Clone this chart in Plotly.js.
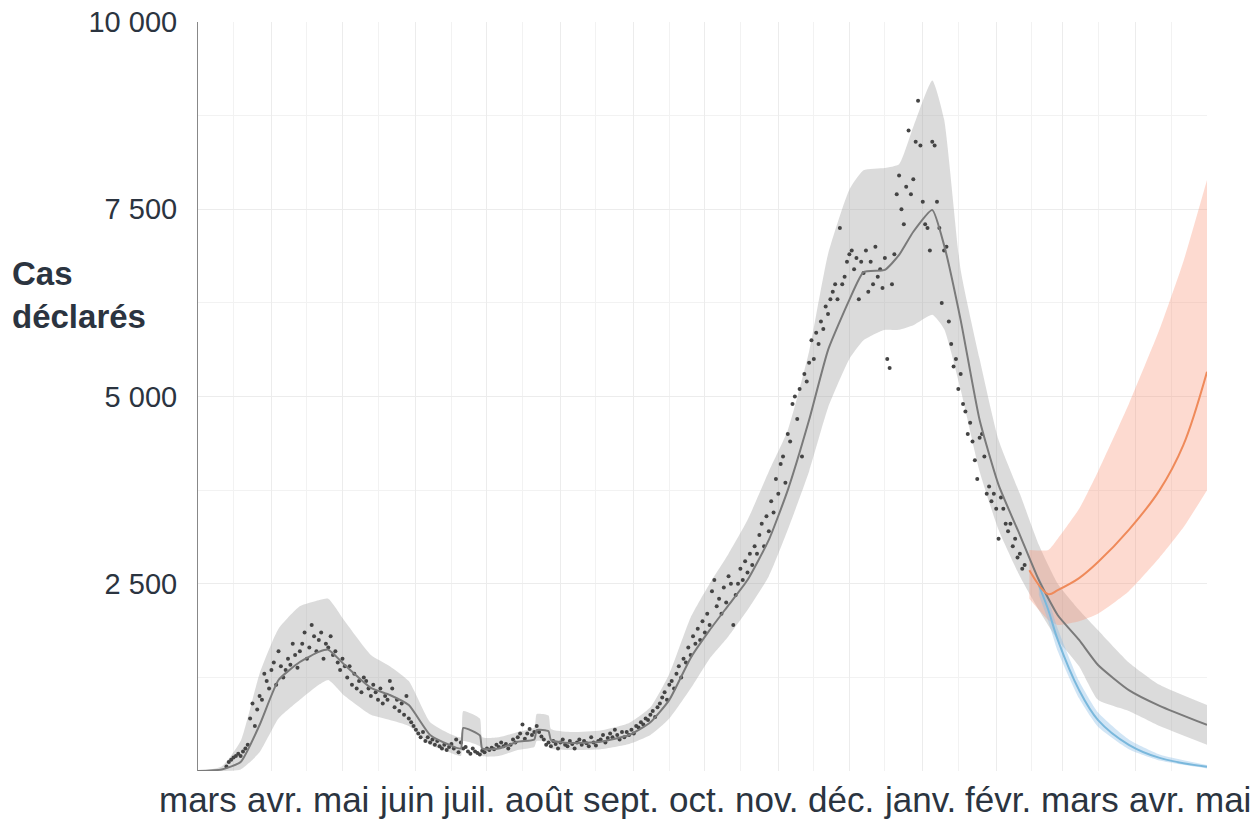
<!DOCTYPE html>
<html>
<head>
<meta charset="utf-8">
<script src="https://cdn.plot.ly/plotly-3.0.1.min.js"></script>
<style>body{margin:0;background:#fff}#chart{width:1259px;height:823px}</style>
</head>
<body>
<div id="chart"></div>
<script>
// Jours comptés depuis le 1er mars 2020
const START = Date.UTC(2020, 2, 1);

// Courbe ajustée (gris)
const fitDays  = [0, 10, 18, 26, 34, 43, 51, 55, 62, 73, 81, 89, 98, 106, 111, 112, 119, 120, 127, 135, 142, 143, 148, 149, 157, 170, 182, 191, 199, 208, 216, 224, 232, 241, 249, 258, 266, 275, 281, 290, 296, 302, 310, 315, 322, 330, 338, 347, 355, 363, 372, 380, 393, 406, 426];
const fitVals  = [0, 20, 120, 614, 1215, 1455, 1590, 1620, 1415, 1110, 1015, 880, 480, 350, 300, 575, 475, 300, 300, 390, 420, 545, 530, 415, 375, 390, 480, 650, 950, 1510, 1880, 2215, 2550, 3085, 3750, 4685, 5620, 6290, 6660, 6690, 6890, 7200, 7490, 7020, 6020, 4685, 3820, 3150, 2550, 2080, 1750, 1415, 1080, 870, 615];
const bandUp   = [0, 60, 400, 1300, 1900, 2200, 2280, 2300, 2000, 1550, 1400, 1200, 650, 500, 450, 800, 700, 450, 450, 520, 580, 760, 740, 560, 520, 540, 640, 850, 1300, 2050, 2500, 2900, 3350, 4000, 4550, 5600, 6900, 7760, 8020, 8050, 8100, 8600, 9220, 8700, 6690, 5500, 4420, 3700, 3020, 2500, 2150, 1880, 1450, 1150, 880];
const bandLow  = [0, 0, 20, 250, 700, 950, 1150, 1215, 1000, 750, 680, 600, 350, 250, 200, 400, 330, 200, 200, 280, 320, 400, 380, 300, 280, 290, 360, 480, 700, 1100, 1500, 1800, 2150, 2600, 3220, 4000, 4850, 5500, 5750, 5890, 5890, 5950, 6090, 5900, 5090, 4000, 3220, 2600, 2150, 1750, 1400, 950, 800, 600, 350];

// Scénario bas (bleu)
const blueDays = [355, 359, 363, 372, 380, 393, 406, 426];
const blueVals = [2480, 2150, 1750, 1080, 680, 350, 175, 55];
const blueUp   = [2600, 2300, 1900, 1200, 780, 420, 220, 80];
const blueLow  = [2350, 2000, 1600, 970, 590, 290, 140, 35];

// Scénario haut (orange)
const orDays   = [351, 359, 363, 372, 380, 393, 406, 416, 426];
const orVals   = [2680, 2360, 2415, 2575, 2790, 3220, 3750, 4350, 5330];
const orUp     = [2950, 2950, 3100, 3500, 4000, 4900, 5900, 6800, 7890];
const orLow    = [2300, 2015, 1950, 2000, 2100, 2400, 2850, 3250, 3750];

// Cas déclarés quotidiens, un point par jour à partir du jour 12
const OBS_FIRST_DAY = 12;
const obsVals = [
  60, 120, 150, 180, 200, 230, 200, 260, 300, 350,
  700, 900, 600, 820, 1000, 950, 1300, 1200, 1100, 1350,
  1450, 1150, 1600, 1400, 1250, 1350, 1500, 1420, 1700, 1550,
  1380, 1600, 1700, 1850, 1500, 1650, 1950, 1800, 1600, 1750,
  1850, 1500, 1700, 1650, 1800, 1550, 1600, 1450, 1350, 1500,
  1400, 1250, 1400, 1150, 1300, 1100, 1200, 1050, 1250, 1200,
  1100, 1000, 1150, 1050, 950, 1100, 900, 1000, 950, 1200,
  1100, 850, 950, 800, 900, 750, 1000, 700, 650, 600,
  550, 500, 450, 520, 400, 450, 380, 420,
  350, 400, 330, 300, 350, 280, 320, 360, 300, 420,
  250, 380, 300, 320, 260, 230, 300, 260, 240, 220,
  270, 250, 300, 280, 310, 290, 350, 320, 380, 330,
  360, 300, 350, 420, 380, 450, 500, 620, 430, 500,
  560, 480, 520, 600, 520, 460, 420, 350, 380, 330,
  400, 360, 300, 380, 420, 350, 330, 400, 360, 300,
  380, 420, 350, 400, 370, 330, 450, 380, 340, 400,
  420, 480, 380, 440, 500, 450, 550, 480, 420, 520,
  450, 520, 480, 550, 500, 600, 580, 650, 620, 700,
  680, 750, 800, 720, 850, 900, 980, 1050, 950, 1150,
  1200, 1100, 1300, 1400, 1250, 1500, 1450, 1650, 1550, 1800,
  1700, 1900, 1750, 2000, 1850, 2100, 1950, 2400, 2550, 2200,
  2300, 2100, 2450, 2250, 2600, 2500, 1950, 2350, 2500, 2700,
  2550, 2800, 2650, 2900, 2750, 3000, 2900, 3150, 3300, 3000,
  3400, 3200, 3600, 3450, 3900, 3700, 4100, 4200, 3850, 4500,
  4400, 4900, 5000, 4700, 5100, 4200, 5300, 5200, 5450, 5750,
  5500, 5850, 5700, 6000, 5900, 6200, 6100, 6300, 6400, 6500,
  6300, 7250, 6500, 6600, 6800, 6900, 6950, 6700, 6850, 6300,
  6800, 6650, 6950, 6400, 6800, 6500, 7000, 6600, 6700, 6450,
  6850, 5500, 5380, 6500, 6900, 7700, 7950, 7500, 7300, 7800,
  8550, 7700, 7900, 8400, 8950, 8350, 7600, 7300, 7250, 6950,
  8400, 8350, 7600, 7250, 6250, 6950, 7000, 6000, 5700, 5400,
  5500, 5100, 5300, 4900, 4800, 4500, 4650, 4400, 4150, 3900,
  4450, 4500, 4200, 3700, 3800, 3600, 3700, 3500, 3100, 3650,
  3500, 3300, 3200, 3300, 3000, 3100, 2850, 2900, 2700, 2750,
];

const monthLabels = ['mars','avr.','mai','juin','juil.','août','sept.','oct.','nov.','déc.','janv.','févr.','mars','avr.','mai'];

const toDate = d => new Date(START + d * 86400000).toISOString().slice(0, 10);

// Les étiquettes des mois se suivent sur une seule ligne, séparées d'une espace
const LABEL_SIZE = 35;
const PLOT_L = 198, PLOT_W = 1009;
function labelPositions() {
  const ctx = document.createElement('canvas').getContext('2d');
  ctx.font = `${LABEL_SIZE}px "Liberation Sans"`;
  const space = ctx.measureText(' ').width;
  const widths = monthLabels.map(t => ctx.measureText(t).width);
  const total = widths.reduce((a, b) => a + b, 0) + space * (widths.length - 1);
  let x = 705 - total / 2;
  return widths.map(w => { const c = x + w / 2; x += w + space; return (c - PLOT_L) / PLOT_W; });
}

function band(days, up, low, color) {
  const x = days.map(toDate);
  return [
    { x, y: low, type: 'scatter', mode: 'lines', line: { width: 0, shape: 'spline', smoothing: 0.5 }, hoverinfo: 'skip' },
    { x, y: up, type: 'scatter', mode: 'lines', line: { width: 0, shape: 'spline', smoothing: 0.5 },
      fill: 'tonexty', fillcolor: color, hoverinfo: 'skip' },
  ];
}

const traces = [
  ...band(fitDays, bandUp, bandLow, 'rgba(160,160,160,0.38)'),
  ...band(orDays, orUp, orLow, 'rgba(250,150,120,0.35)'),
  ...band(blueDays, blueUp, blueLow, 'rgba(140,190,230,0.4)'),
  { x: obsVals.map((_, i) => toDate(OBS_FIRST_DAY + i)), y: obsVals, type: 'scatter', mode: 'markers',
    marker: { size: 4, color: '#444' } },
  { x: fitDays.map(toDate), y: fitVals, type: 'scatter', mode: 'lines',
    line: { color: '#7a7a7a', width: 2, shape: 'spline', smoothing: 0.5 } },
  { x: blueDays.map(toDate), y: blueVals, type: 'scatter', mode: 'lines',
    line: { color: '#7ab8dc', width: 2, shape: 'spline' } },
  { x: orDays.map(toDate), y: orVals, type: 'scatter', mode: 'lines',
    line: { color: '#ef8a5a', width: 2, shape: 'spline' } },
];

const monthPos = labelPositions();
const monthAnn = monthLabels.map((t, i) => ({
  text: t, xref: 'paper', yref: 'paper', x: monthPos[i], y: -0.01,
  xanchor: 'center', yanchor: 'top', showarrow: false,
  font: { size: LABEL_SIZE, color: '#2b3440' },
}));

const layout = {
  width: 1259, height: 823,
  showlegend: false,
  paper_bgcolor: '#fff', plot_bgcolor: '#fff',
  margin: { t: 22, b: 52, l: 198, r: 52 },
  separators: ', ',
  font: { family: 'Liberation Sans, Arial, sans-serif', color: '#2b3440', size: 24 },
  xaxis: {
    type: 'date', range: [toDate(0), toDate(426)],
    dtick: 'M1', tick0: '2020-03-01', showticklabels: false,
    showgrid: true, gridcolor: '#ececec', zeroline: false, showline: false, ticks: '',
    minor: { dtick: 'M1', tick0: '2020-03-16', showgrid: true, gridcolor: '#f2f2f2' },
  },
  yaxis: {
    range: [0, 10000], tickvals: [2500, 5000, 7500, 10000], tickformat: ',d',
    showgrid: true, gridcolor: '#ececec', zeroline: false,
    showline: true, linecolor: '#888', linewidth: 1,
    ticks: 'outside', tickcolor: 'rgba(0,0,0,0)', ticklen: 14,
    minor: { dtick: 1250, showgrid: true, gridcolor: '#f2f2f2' },
    tickfont: { size: 29 },
  },
  annotations: [
    {
      text: '<b>Cas<br>déclarés</b>', xref: 'paper', yref: 'paper',
      x: -0.186, y: 0.635, xanchor: 'left', yanchor: 'middle', align: 'left',
      showarrow: false, font: { size: 33, color: '#2b3440' },
    },
    ...monthAnn,
  ],
};

Plotly.newPlot('chart', traces, layout, { displayModeBar: false });
</script>
</body>
</html>
